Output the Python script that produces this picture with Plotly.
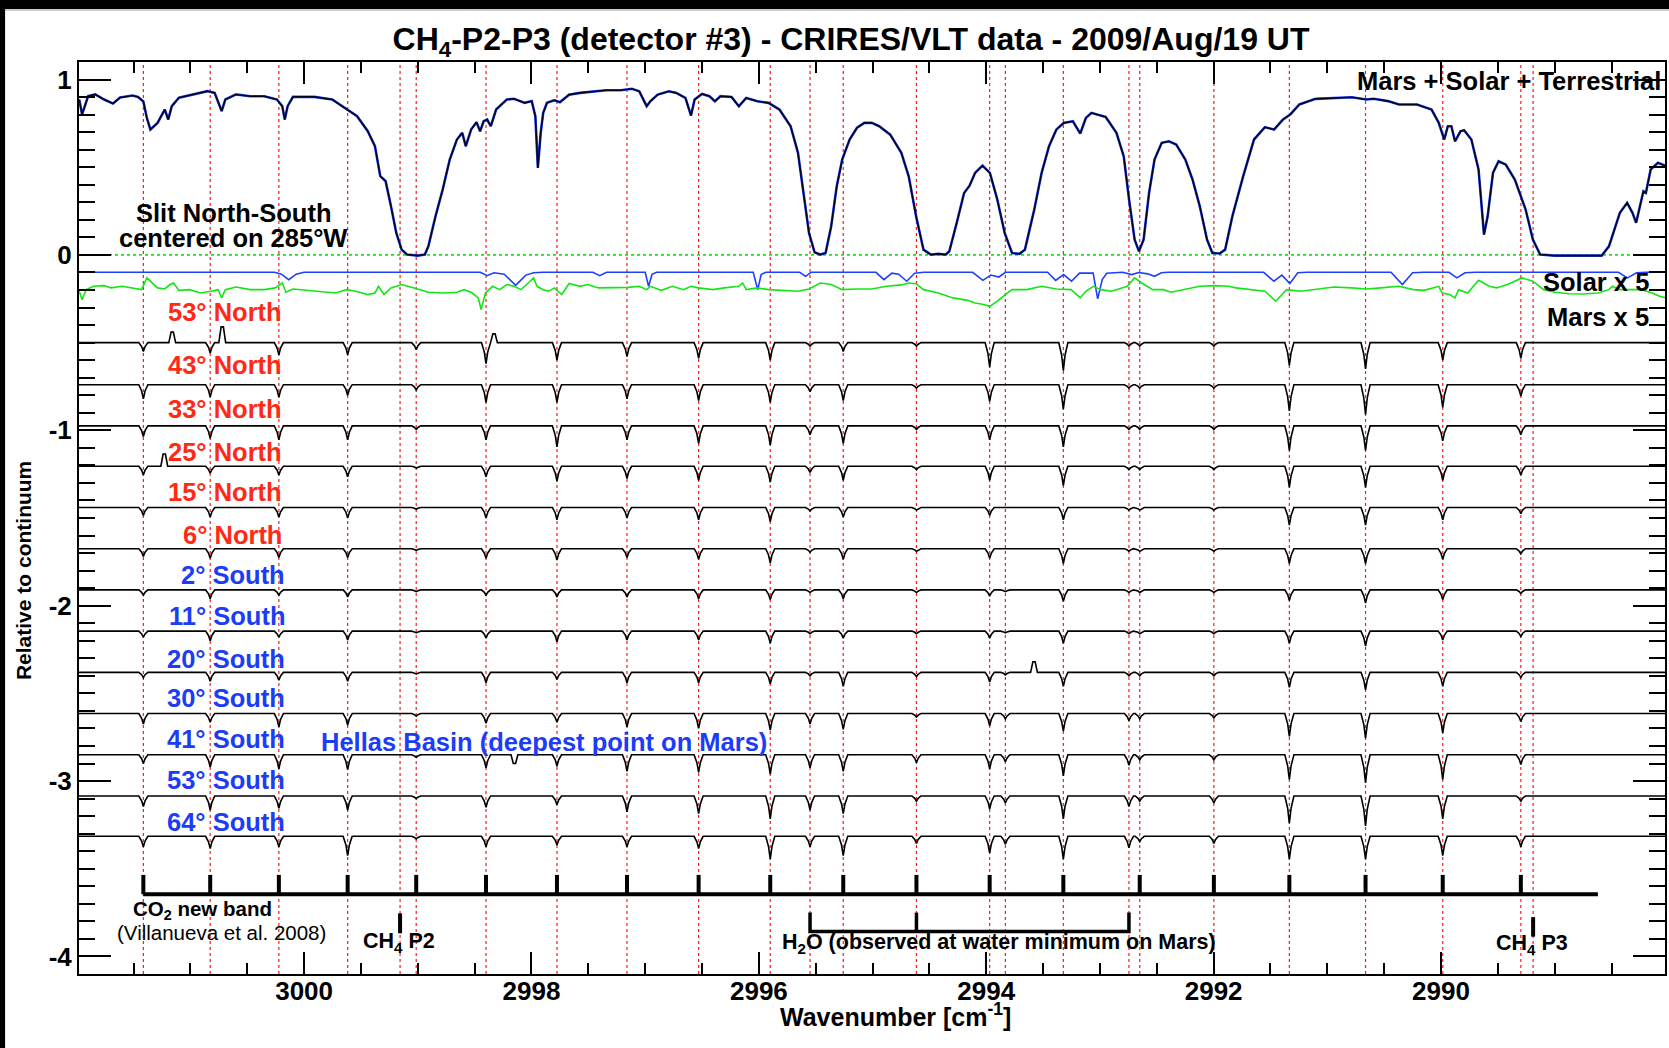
import plotly.graph_objects as go

# ------------------------------------------------------------------ data
# Mars + Solar + Terrestrial transmittance (wavenumber, relative intensity)
trans_pts = [
    (3001.978, 0.886), (3001.953, 0.801), (3001.900, 0.905), (3001.837, 0.915), (3001.759, 0.886),
    (3001.681, 0.863), (3001.618, 0.898), (3001.508, 0.909), (3001.461, 0.901), (3001.414, 0.875),
    (3001.383, 0.781), (3001.352, 0.715), (3001.289, 0.753), (3001.226, 0.829), (3001.195, 0.772),
    (3001.164, 0.848), (3001.101, 0.896), (3000.975, 0.915), (3000.850, 0.934), (3000.787, 0.924),
    (3000.740, 0.839), (3000.725, 0.820), (3000.693, 0.886), (3000.599, 0.915), (3000.474, 0.905),
    (3000.349, 0.905), (3000.239, 0.886), (3000.192, 0.848), (3000.170, 0.772), (3000.145, 0.848),
    (3000.098, 0.901), (2999.910, 0.901), (2999.753, 0.886), (2999.628, 0.833), (2999.534, 0.791),
    (2999.440, 0.705), (2999.377, 0.620), (2999.330, 0.449), (2999.283, 0.420), (2999.236, 0.278),
    (2999.189, 0.125), (2999.142, 0.030), (2999.095, 0.002), (2999.001, -0.004), (2998.938, 0.002),
    (2998.907, 0.049), (2998.844, 0.221), (2998.781, 0.373), (2998.719, 0.544), (2998.656, 0.658),
    (2998.609, 0.696), (2998.578, 0.620), (2998.531, 0.715), (2998.484, 0.757), (2998.452, 0.705),
    (2998.421, 0.762), (2998.390, 0.772), (2998.358, 0.734), (2998.311, 0.829), (2998.217, 0.886),
    (2998.154, 0.890), (2998.060, 0.867), (2997.998, 0.877), (2997.966, 0.791), (2997.944, 0.496),
    (2997.919, 0.696), (2997.897, 0.810), (2997.864, 0.867), (2997.799, 0.882), (2997.750, 0.871),
    (2997.669, 0.914), (2997.572, 0.924), (2997.474, 0.930), (2997.344, 0.939), (2997.214, 0.939),
    (2997.117, 0.947), (2997.052, 0.933), (2996.987, 0.848), (2996.955, 0.876), (2996.890, 0.914),
    (2996.792, 0.933), (2996.727, 0.924), (2996.646, 0.895), (2996.597, 0.795), (2996.565, 0.886),
    (2996.500, 0.918), (2996.435, 0.905), (2996.387, 0.876), (2996.338, 0.905), (2996.241, 0.901),
    (2996.176, 0.848), (2996.111, 0.895), (2996.013, 0.876), (2995.916, 0.867), (2995.819, 0.829),
    (2995.721, 0.734), (2995.656, 0.582), (2995.607, 0.353), (2995.559, 0.125), (2995.510, 0.015),
    (2995.461, 0.002), (2995.413, 0.011), (2995.364, 0.163), (2995.315, 0.392), (2995.267, 0.544),
    (2995.202, 0.658), (2995.137, 0.725), (2995.072, 0.753), (2995.007, 0.753), (2994.942, 0.734),
    (2994.845, 0.686), (2994.747, 0.582), (2994.682, 0.448), (2994.617, 0.220), (2994.552, 0.030),
    (2994.487, 0.002), (2994.422, 0.006), (2994.357, 0.002), (2994.325, 0.021), (2994.260, 0.182),
    (2994.195, 0.353), (2994.147, 0.395), (2994.098, 0.468), (2994.033, 0.509), (2993.968, 0.468),
    (2993.903, 0.316), (2993.838, 0.125), (2993.773, 0.011), (2993.708, 0.006), (2993.660, 0.030),
    (2993.578, 0.258), (2993.513, 0.468), (2993.448, 0.620), (2993.383, 0.715), (2993.318, 0.753),
    (2993.238, 0.762), (2993.173, 0.692), (2993.124, 0.781), (2993.075, 0.810), (2992.994, 0.795),
    (2992.950, 0.787), (2992.855, 0.696), (2992.791, 0.563), (2992.744, 0.316), (2992.695, 0.087),
    (2992.657, 0.021), (2992.616, 0.087), (2992.568, 0.354), (2992.520, 0.544), (2992.457, 0.639),
    (2992.393, 0.648), (2992.329, 0.629), (2992.249, 0.544), (2992.186, 0.430), (2992.122, 0.278),
    (2992.058, 0.087), (2992.011, 0.011), (2991.947, 0.008), (2991.899, 0.030), (2991.835, 0.221),
    (2991.740, 0.449), (2991.645, 0.658), (2991.549, 0.728), (2991.469, 0.715), (2991.390, 0.772),
    (2991.326, 0.801), (2991.246, 0.858), (2991.103, 0.890), (2990.944, 0.896), (2990.785, 0.899),
    (2990.657, 0.886), (2990.593, 0.890), (2990.466, 0.877), (2990.370, 0.858), (2990.211, 0.858),
    (2990.083, 0.829), (2990.020, 0.753), (2989.972, 0.658), (2989.940, 0.734), (2989.909, 0.734),
    (2989.877, 0.648), (2989.829, 0.705), (2989.797, 0.711), (2989.733, 0.658), (2989.670, 0.487),
    (2989.622, 0.116), (2989.590, 0.220), (2989.543, 0.468), (2989.494, 0.534), (2989.431, 0.515),
    (2989.351, 0.430), (2989.256, 0.259), (2989.192, 0.087), (2989.128, 0.002), (2989.001, -0.004),
    (2988.874, -0.004), (2988.714, -0.008), (2988.587, -0.004), (2988.523, 0.049), (2988.427, 0.240),
    (2988.363, 0.297), (2988.316, 0.240), (2988.284, 0.183), (2988.252, 0.278), (2988.220, 0.363),
    (2988.198, 0.354), (2988.156, 0.487), (2988.092, 0.525), (2988.019, 0.506),
]

# Solar x 5 (offset curve)
solar_pts = [
    (3001.98, -0.099), (3000.26, -0.099), (3000.20, -0.110), (3000.135, -0.141), (3000.07, -0.110),
    (3000.00, -0.099), (2998.45, -0.099), (2998.39, -0.118), (2998.33, -0.102), (2998.24, -0.110),
    (2998.139, -0.173), (2998.05, -0.115), (2997.98, -0.102), (2997.90, -0.099), (2997.46, -0.099),
    (2997.40, -0.118), (2997.34, -0.099), (2997.00, -0.099), (2996.97, -0.179), (2996.94, -0.110),
    (2996.90, -0.099), (2996.05, -0.099), (2996.01, -0.198), (2995.98, -0.112), (2995.94, -0.099),
    (2995.64, -0.099), (2995.59, -0.122), (2995.54, -0.099), (2994.97, -0.099), (2994.90, -0.141),
    (2994.83, -0.104), (2994.77, -0.110), (2994.70, -0.150), (2994.63, -0.104), (2994.55, -0.099),
    (2994.12, -0.099), (2994.03, -0.145), (2993.96, -0.115), (2993.89, -0.126), (2993.83, -0.099),
    (2993.46, -0.099), (2993.39, -0.145), (2993.32, -0.112), (2993.25, -0.150), (2993.18, -0.104),
    (2993.06, -0.104), (2993.02, -0.251), (2992.98, -0.140), (2992.94, -0.104), (2992.80, -0.099),
    (2992.72, -0.112), (2992.66, -0.100), (2992.58, -0.108), (2992.52, -0.122), (2992.46, -0.102),
    (2992.40, -0.099), (2991.56, -0.099), (2991.47, -0.150), (2991.40, -0.115), (2991.33, -0.163),
    (2991.26, -0.102), (2991.18, -0.099), (2990.44, -0.099), (2990.34, -0.169), (2990.25, -0.102),
    (2990.15, -0.099), (2989.93, -0.099), (2989.86, -0.131), (2989.79, -0.102), (2989.70, -0.099),
    (2988.44, -0.099), (2988.36, -0.131), (2988.28, -0.102), (2988.20, -0.099), (2988.03, -0.099),
]

# Mars x 5 (offset curve)
mars_pts = [
    (3001.978, -0.207), (3001.953, -0.255), (3001.916, -0.198), (3001.853, -0.179), (3001.759, -0.175),
    (3001.696, -0.188), (3001.602, -0.179), (3001.508, -0.190), (3001.430, -0.198), (3001.383, -0.131),
    (3001.352, -0.150), (3001.289, -0.188), (3001.226, -0.194), (3001.179, -0.169), (3001.148, -0.160),
    (3001.101, -0.202), (3001.007, -0.198), (3000.913, -0.217), (3000.819, -0.207), (3000.756, -0.198),
    (3000.725, -0.245), (3000.693, -0.198), (3000.599, -0.183), (3000.474, -0.198), (3000.349, -0.198),
    (3000.254, -0.188), (3000.192, -0.160), (3000.160, -0.213), (3000.098, -0.194), (2999.972, -0.202),
    (2999.847, -0.207), (2999.722, -0.217), (2999.628, -0.198), (2999.534, -0.209), (2999.440, -0.226),
    (2999.377, -0.217), (2999.345, -0.179), (2999.298, -0.226), (2999.236, -0.188), (2999.142, -0.169),
    (2999.032, -0.188), (2998.907, -0.213), (2998.781, -0.217), (2998.656, -0.213), (2998.593, -0.198),
    (2998.531, -0.213), (2998.468, -0.245), (2998.443, -0.312), (2998.405, -0.217), (2998.342, -0.179),
    (2998.280, -0.198), (2998.217, -0.169), (2998.154, -0.179), (2998.092, -0.198), (2998.029, -0.160),
    (2997.982, -0.131), (2997.951, -0.179), (2997.897, -0.198), (2997.848, -0.207), (2997.799, -0.188),
    (2997.734, -0.226), (2997.669, -0.163), (2997.572, -0.179), (2997.507, -0.169), (2997.409, -0.188),
    (2997.280, -0.188), (2997.150, -0.185), (2997.052, -0.179), (2996.987, -0.198), (2996.955, -0.179),
    (2996.858, -0.202), (2996.760, -0.179), (2996.663, -0.198), (2996.598, -0.179), (2996.533, -0.188),
    (2996.403, -0.198), (2996.306, -0.188), (2996.176, -0.179), (2996.143, -0.160), (2996.111, -0.198),
    (2996.013, -0.188), (2995.916, -0.198), (2995.786, -0.202), (2995.656, -0.207), (2995.559, -0.194),
    (2995.461, -0.160), (2995.364, -0.169), (2995.267, -0.198), (2995.137, -0.194), (2995.007, -0.194),
    (2994.877, -0.179), (2994.747, -0.171), (2994.682, -0.160), (2994.617, -0.164), (2994.552, -0.198),
    (2994.422, -0.217), (2994.293, -0.245), (2994.163, -0.259), (2994.098, -0.274), (2994.033, -0.281),
    (2993.968, -0.293), (2993.903, -0.264), (2993.832, -0.226), (2993.773, -0.198), (2993.643, -0.198),
    (2993.513, -0.179), (2993.383, -0.194), (2993.254, -0.198), (2993.173, -0.245), (2993.124, -0.207),
    (2993.059, -0.179), (2992.994, -0.198), (2992.897, -0.207), (2992.759, -0.179), (2992.696, -0.131),
    (2992.632, -0.160), (2992.536, -0.198), (2992.441, -0.198), (2992.377, -0.213), (2992.250, -0.198),
    (2992.122, -0.179), (2991.995, -0.175), (2991.868, -0.179), (2991.804, -0.188), (2991.676, -0.198),
    (2991.549, -0.207), (2991.454, -0.264), (2991.358, -0.198), (2991.231, -0.207), (2991.103, -0.198),
    (2990.944, -0.183), (2990.785, -0.188), (2990.657, -0.194), (2990.530, -0.188), (2990.371, -0.179),
    (2990.243, -0.198), (2990.148, -0.202), (2990.020, -0.179), (2989.989, -0.217), (2989.925, -0.226),
    (2989.877, -0.245), (2989.845, -0.198), (2989.766, -0.217), (2989.670, -0.145), (2989.575, -0.179),
    (2989.511, -0.188), (2989.415, -0.169), (2989.288, -0.131), (2989.192, -0.150), (2989.097, -0.198),
    (2989.001, -0.213), (2988.874, -0.221), (2988.747, -0.223), (2988.619, -0.217), (2988.524, -0.198),
    (2988.492, -0.179), (2988.428, -0.198), (2988.237, -0.198), (2988.142, -0.217), (2988.078, -0.236),
    (2988.020, -0.245),
]

# positions of all marked lines (red dotted)
line_pos = [3001.414, 3000.826, 3000.222, 2999.617, 2999.156, 2999.014, 2998.400, 2997.776,
            2997.160, 2996.530, 2995.900, 2995.550, 2995.258, 2994.614, 2993.970, 2993.832,
            2993.322, 2992.745, 2992.650, 2991.998, 2991.334, 2990.664, 2989.985, 2989.298,
            2989.190]
co2_lines = [3001.414, 3000.826, 3000.222, 2999.617, 2999.014, 2998.400, 2997.776, 2997.160,
             2996.530, 2995.900, 2995.258, 2994.614, 2993.970, 2993.322, 2992.650, 2991.998,
             2991.334, 2990.664, 2989.985, 2989.298]
co2_comb_end = 2988.62
ch4_p2 = 2999.156
ch4_p3 = 2989.190
h2o_lines = [2995.550, 2994.614, 2992.745]

# latitude spectra (offset baselines and line depths at line_pos)
spec_labels = ["53° North", "43° North", "33° North", "25° North", "15° North", "6° North",
               "2° South", "11° South", "20° South", "30° South", "41° South", "53° South",
               "64° South"]
spec_offsets = [-0.50, -0.74, -0.975, -1.205, -1.44, -1.675, -1.91, -2.145, -2.38, -2.615,
                -2.85, -3.085, -3.315]
dip_depths = [
    [0.05, 0.06, 0.07, 0.07, 0.0, 0.04, 0.12, 0.10, 0.08, 0.09, 0.10, 0.02, 0.05, 0.02, 0.14, 0.0, 0.16, 0.02, 0.02, 0.02, 0.13, 0.15, 0.10, 0.09, 0.0],
    [0.08, 0.07, 0.07, 0.06, 0.0, 0.03, 0.10, 0.10, 0.08, 0.09, 0.10, 0.04, 0.09, 0.02, 0.095, 0.0, 0.14, 0.02, 0.02, 0.02, 0.15, 0.17, 0.13, 0.065, 0.0],
    [0.06, 0.07, 0.08, 0.08, 0.0, 0.02, 0.08, 0.12, 0.08, 0.10, 0.11, 0.05, 0.10, 0.02, 0.08, 0.0, 0.12, 0.02, 0.02, 0.02, 0.14, 0.14, 0.085, 0.05, 0.0],
    [0.05, 0.04, 0.05, 0.06, 0.0, 0.01, 0.06, 0.085, 0.07, 0.08, 0.09, 0.035, 0.08, 0.02, 0.08, 0.0, 0.11, 0.02, 0.02, 0.02, 0.12, 0.12, 0.08, 0.05, 0.0],
    [0.045, 0.055, 0.055, 0.06, 0.0, 0.01, 0.06, 0.07, 0.06, 0.07, 0.08, 0.02, 0.055, 0.015, 0.045, 0.0, 0.07, 0.015, 0.015, 0.015, 0.10, 0.10, 0.07, 0.035, 0.0],
    [0.045, 0.055, 0.05, 0.05, 0.0, 0.01, 0.055, 0.065, 0.05, 0.06, 0.08, 0.02, 0.06, 0.015, 0.055, 0.0, 0.085, 0.015, 0.015, 0.015, 0.085, 0.085, 0.06, 0.03, 0.0],
    [0.03, 0.05, 0.03, 0.04, 0.0, 0.01, 0.03, 0.04, 0.04, 0.05, 0.055, 0.015, 0.05, 0.015, 0.035, 0.01, 0.065, 0.015, 0.015, 0.015, 0.06, 0.075, 0.055, 0.02, 0.0],
    [0.035, 0.055, 0.035, 0.05, 0.0, 0.01, 0.04, 0.06, 0.05, 0.05, 0.07, 0.015, 0.04, 0.015, 0.04, 0.01, 0.07, 0.015, 0.015, 0.015, 0.07, 0.085, 0.05, 0.03, 0.0],
    [0.03, 0.05, 0.045, 0.05, 0.0, 0.01, 0.06, 0.04, 0.06, 0.06, 0.065, 0.02, 0.08, 0.025, 0.055, 0.015, 0.08, 0.02, 0.02, 0.02, 0.085, 0.10, 0.08, 0.03, 0.0],
    [0.06, 0.05, 0.075, 0.065, 0.0, 0.015, 0.055, 0.05, 0.075, 0.085, 0.095, 0.06, 0.09, 0.02, 0.07, 0.03, 0.10, 0.04, 0.03, 0.025, 0.13, 0.14, 0.11, 0.045, 0.0],
    [0.05, 0.07, 0.08, 0.085, 0.0, 0.015, 0.075, 0.065, 0.095, 0.10, 0.11, 0.075, 0.095, 0.045, 0.08, 0.04, 0.12, 0.06, 0.03, 0.03, 0.14, 0.16, 0.14, 0.055, 0.0],
    [0.06, 0.08, 0.07, 0.08, 0.0, 0.015, 0.065, 0.05, 0.09, 0.10, 0.13, 0.08, 0.10, 0.03, 0.075, 0.04, 0.13, 0.06, 0.03, 0.04, 0.155, 0.17, 0.13, 0.03, 0.0],
    [0.06, 0.07, 0.06, 0.11, 0.0, 0.015, 0.06, 0.05, 0.06, 0.07, 0.13, 0.06, 0.11, 0.04, 0.095, 0.045, 0.13, 0.065, 0.03, 0.04, 0.13, 0.13, 0.11, 0.06, 0.0],
]
# isolated features (spectrum index, wavenumber, amplitude; + = spike up)
extra_features = [(0, 3000.72, 0.09), (0, 3001.16, 0.06), (0, 2998.33, 0.05), (3, 3001.23, 0.07),
                  (8, 2993.58, 0.06), (10, 2998.15, -0.05)]

x_tick_vals = [3000, 2998, 2996, 2994, 2992, 2990]
y_tick_vals = [1, 0, -1, -2, -3, -4]
y_tick_text = ["1", "0", "-1", "-2", "-3", "-4"]

# ------------------------------------------------------------------ layout constants
W, H = 1669, 1048
ML, MR, MT, MB = 79, 2, 62, 74
X_RANGE = [3001.98, 2988.03]
Y_RANGE = [-4.10, 1.10]
FONT = "Liberation Sans, Arial, Helvetica, sans-serif"
RED_TXT = "#ff2a14"
BLUE_TXT = "#1c3cf5"

fig = go.Figure()

# top spectrum: model (blue) under data (black)
tx = [p[0] for p in trans_pts]
ty = [p[1] for p in trans_pts]
fig.add_trace(go.Scatter(x=tx, y=ty, mode="lines", line=dict(color="#2444ff", width=2.6)))
fig.add_trace(go.Scatter(x=tx, y=ty, mode="lines", line=dict(color="#05051a", width=1.6)))

fig.add_trace(go.Scatter(x=[p[0] for p in solar_pts], y=[p[1] for p in solar_pts], mode="lines",
                         line=dict(color="#1f3fff", width=1.6)))
fig.add_trace(go.Scatter(x=[p[0] for p in mars_pts], y=[p[1] for p in mars_pts], mode="lines",
                         line=dict(color="#14e614", width=1.6)))

# latitude spectra
for i, (base, depths) in enumerate(zip(spec_offsets, dip_depths)):
    pts = [(X_RANGE[1], base), (X_RANGE[0], base)]
    for x0, d in zip(line_pos, depths):
        if d <= 0:
            continue
        pts += [(x0 - 0.04, base), (x0 - 0.015, base - 0.45 * d), (x0, base - d),
                (x0 + 0.015, base - 0.45 * d), (x0 + 0.04, base)]
    for (k, x0, a) in extra_features:
        if k == i:
            pts += [(x0 - 0.03, base), (x0 - 0.01, base + a), (x0 + 0.01, base + a), (x0 + 0.03, base)]
    pts.sort()
    fig.add_trace(go.Scatter(x=[p[0] for p in pts], y=[p[1] for p in pts], mode="lines",
                             line=dict(color="black", width=1.6)))

# CO2 band comb
COMB_Y, COMB_TOP = -3.645, -3.535
fig.add_trace(go.Scatter(x=[max(co2_lines), co2_comb_end], y=[COMB_Y, COMB_Y], mode="lines",
                         line=dict(color="black", width=4)))
cx, cy = [], []
for x0 in co2_lines:
    cx += [x0, x0, None]
    cy += [COMB_Y, COMB_TOP, None]
fig.add_trace(go.Scatter(x=cx, y=cy, mode="lines", line=dict(color="black", width=4)))

# CH4 markers
for x0, (y0, y1) in [(ch4_p2, (-3.754, -3.868)), (ch4_p3, (-3.776, -3.887))]:
    fig.add_trace(go.Scatter(x=[x0, x0], y=[y0, y1], mode="lines", line=dict(color="black", width=4)))

# H2O bracket
H_TOP, H_BOT = -3.750, -3.858
bx = [h2o_lines[0], h2o_lines[0], h2o_lines[-1], h2o_lines[-1], None, h2o_lines[1], h2o_lines[1]]
by = [H_TOP, H_BOT, H_BOT, H_TOP, None, H_BOT, H_TOP]
fig.add_trace(go.Scatter(x=bx, y=by, mode="lines", line=dict(color="black", width=3.5)))

# ------------------------------------------------------------------ shapes
shapes = []
for x0 in line_pos:
    shapes.append(dict(type="line", xref="x", yref="paper", x0=x0, x1=x0, y0=0, y1=1,
                       line=dict(color="#ff1a1a", width=1.2, dash="dot"), layer="below"))
shapes.append(dict(type="line", xref="paper", yref="y", x0=0, x1=1, y0=0, y1=0,
                   line=dict(color="#22dd22", width=1.6, dash="dot"), layer="below"))

pw = W - ML - MR
ph = H - MT - MB
def paper_x(px):
    return (px - ML) / pw
def paper_y(py):
    return (H - MB - py) / ph

shapes.append(dict(type="rect", xref="paper", yref="paper", x0=paper_x(-5), x1=paper_x(W + 5),
                   y0=paper_y(9), y1=paper_y(-5), fillcolor="black", line=dict(width=0), layer="above"))
shapes.append(dict(type="line", xref="paper", yref="paper", x0=paper_x(5), x1=paper_x(W + 5),
                   y0=paper_y(10), y1=paper_y(10), line=dict(color="#9a9a9a", width=1), layer="above"))
shapes.append(dict(type="rect", xref="paper", yref="paper", x0=paper_x(-5), x1=paper_x(5),
                   y0=paper_y(H + 5), y1=paper_y(-5), fillcolor="black", line=dict(width=0), layer="above"))

# ------------------------------------------------------------------ annotations
def txt(x, y, text, size, color="black", xanchor="center", bold=True, xref="x", yref="y", angle=0):
    return dict(x=x, y=y, xref=xref, yref=yref, text=text, showarrow=False, xanchor=xanchor,
                yanchor="middle", textangle=angle,
                font=dict(family=FONT, size=size, color=color, weight="bold" if bold else "normal"))

ann = []
ann.append(txt(3000.62, 0.240, "Slit North-South", 25.5))
ann.append(txt(3000.62, 0.096, "centered on 285°W", 25.5))
ann.append(txt(2988.05, 0.994, "Mars + Solar + Terrestrial", 25.5, xanchor="right"))
ann.append(txt(2988.15, -0.152, "Solar x 5", 25.5, xanchor="right"))
ann.append(txt(2988.15, -0.352, "Mars x 5", 25.5, xanchor="right"))
label_y = [-0.323, -0.626, -0.877, -1.122, -1.350, -1.596, -1.824, -2.058, -2.303, -2.526,
           -2.759, -2.993, -3.233]
for lab, ly in zip(spec_labels, label_y):
    north = "North" in lab
    ann.append(txt(3000.176 if north else 3000.149, ly, lab, 25.5,
                   color=RED_TXT if north else BLUE_TXT, xanchor="right"))
ann.append(txt(2999.868, -2.777, "Hellas Basin (deepest point on Mars)", 25.5, color=BLUE_TXT,
               xanchor="left"))
ann.append(txt(3000.895, -3.735, "CO<sub>2</sub> new band", 20.5))
ann.append(txt(3000.728, -3.866, "(Villanueva et al. 2008)", 20.5, bold=False))
ann.append(txt(2999.50, -3.923, "CH<sub>4</sub> P2", 21.5, xanchor="left"))
ann.append(txt(2993.891, -3.925, "H<sub>2</sub>O (observed at water minimum on Mars)", 21.5))
ann.append(txt(2989.53, -3.930, "CH<sub>4</sub> P3", 21.5, xanchor="left"))
ann.append(txt(paper_x(23), paper_y(571), "Relative to continuum", 21, xref="paper", yref="paper",
               angle=-90))
ann.append(txt(paper_x(897), paper_y(1015), "Wavenumber [cm<sup>-1</sup>]", 25, xref="paper",
               yref="paper"))

# ------------------------------------------------------------------ axes & layout
tickfont = dict(family=FONT, size=26, color="black", weight="bold")
fig.update_xaxes(range=X_RANGE, tickmode="array", tickvals=x_tick_vals,
                 ticktext=[str(v) for v in x_tick_vals], ticks="inside", ticklen=22, tickwidth=2,
                 tickcolor="black", showline=True, linewidth=2, linecolor="black", mirror="ticks",
                 showgrid=False, zeroline=False, tickfont=tickfont, ticklabelstandoff=-7,
                 minor=dict(tickmode="linear", tick0=0, dtick=0.5, ticks="inside", ticklen=11,
                            tickwidth=2, tickcolor="black", showgrid=False))
fig.update_yaxes(range=Y_RANGE, tickmode="array", tickvals=y_tick_vals, ticktext=y_tick_text,
                 ticks="inside", ticklen=32, tickwidth=2, tickcolor="black", showline=True,
                 linewidth=2, linecolor="black", mirror="ticks", showgrid=False, zeroline=False,
                 tickfont=tickfont,
                 minor=dict(tickmode="linear", tick0=0, dtick=0.1, ticks="inside", ticklen=16,
                            tickwidth=2, tickcolor="black", showgrid=False))

fig.update_layout(
    width=W, height=H, margin=dict(l=ML, r=MR, t=MT, b=MB),
    paper_bgcolor="white", plot_bgcolor="white", showlegend=False,
    title=dict(text="CH<sub>4</sub>-P2-P3 (detector #3) - CRIRES/VLT data - 2009/Aug/19 UT",
               x=851 / W, xanchor="center", y=1 - 39 / H, yanchor="middle",
               font=dict(family=FONT, size=32, color="black", weight="bold")),
    shapes=shapes, annotations=ann,
)

fig.write_html("out.html", config={"displayModeBar": False},
               post_script="document.body.style.margin='0px';")
